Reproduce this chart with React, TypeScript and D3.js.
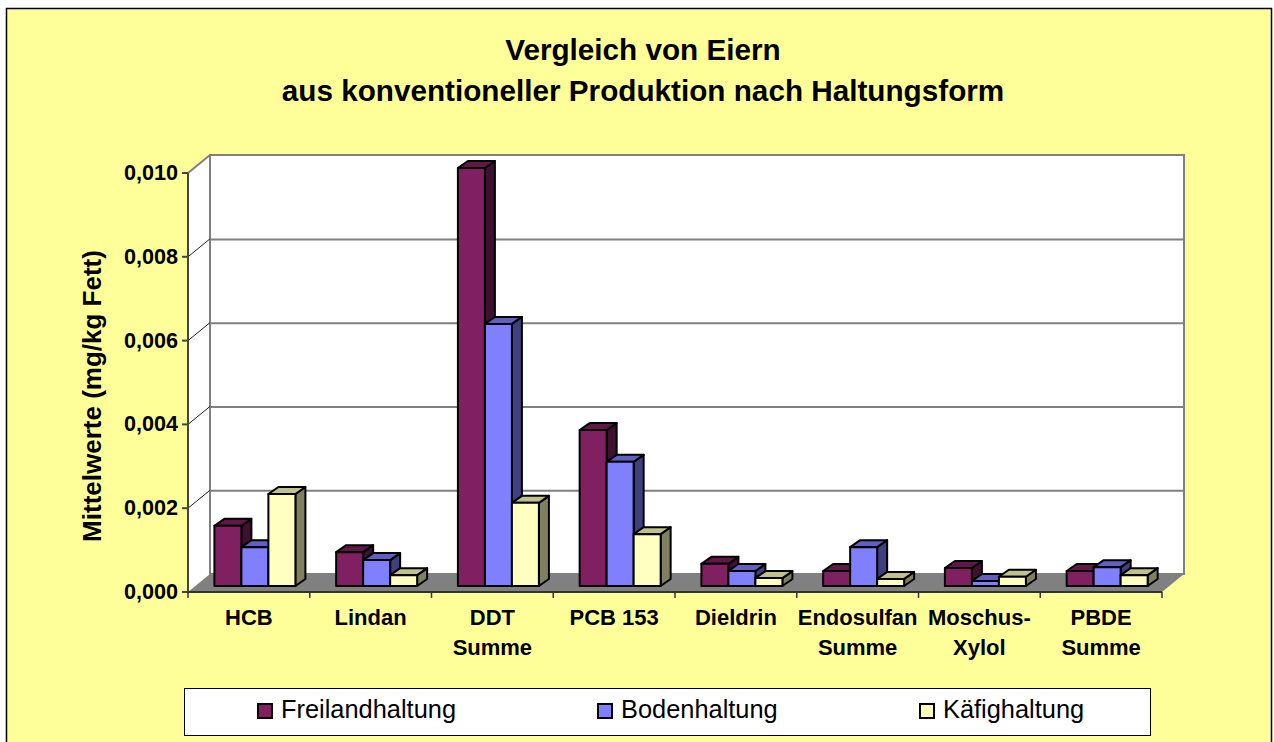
import React from "react";
import * as d3 from "d3";

const categories = [["HCB"], ["Lindan"], ["DDT", "Summe"], ["PCB 153"], ["Dieldrin"], ["Endosulfan", "Summe"], ["Moschus-", "Xylol"], ["PBDE", "Summe"]];
const freiland = [0.00144, 0.00081, 0.0100, 0.00373, 0.00053, 0.00036, 0.00043, 0.00036];
const boden = [0.00093, 0.00062, 0.00627, 0.00297, 0.00036, 0.00093, 0.00012, 0.00045];
const kaefig = [0.0022, 0.00026, 0.00199, 0.00124, 0.00019, 0.00017, 0.00022, 0.00026];
const seriesNames = ["Freilandhaltung", "Bodenhaltung", "Käfighaltung"];
const seriesValues = [freiland, boden, kaefig];
const seriesColors = [
  { front: "#802060", top: "#601848", side: "#401030" },
  { front: "#8080ff", top: "#6060c0", side: "#404080" },
  { front: "#ffffc0", top: "#c0c090", side: "#808060" },
];
const yTicks = [0, 0.002, 0.004, 0.006, 0.008, 0.01];
const FONT = "'Liberation Sans', Arial, sans-serif";

const axisX0 = 188, axisX1 = 1162, axisY0 = 592, axisY1 = 173;
const dx = 22, dy = 18;
const barBase = 586, barTop = 168, barDx = 10, barDy = 7;

export default function App() {
  const yAxis = d3.scaleLinear().domain([0, 0.01]).range([axisY0, axisY1]);
  const yBar = d3.scaleLinear().domain([0, 0.01]).range([barBase, barTop]);
  const xBand = d3.scaleBand<number>().domain(d3.range(categories.length)).range([axisX0, axisX1]);
  const barW = 27;
  const poly = (pts: number[][]) => d3.line()(pts as [number, number][]) + "Z";

  return (
    <svg width={1274} height={742} style={{ position: "absolute", left: 0, top: 0, display: "block" }} fontFamily={FONT}>
      <rect x={0} y={0} width={1274} height={742} fill="#ffffff" />
      <rect x={6.5} y={8.5} width={1265} height={740} fill="#ffff99" stroke="#000" strokeWidth={1.5} />
      <text x={643} y={60} textAnchor="middle" fontSize={29.7} fontWeight="bold">Vergleich von Eiern</text>
      <text x={643} y={100.5} textAnchor="middle" fontSize={29.7} fontWeight="bold">aus konventioneller Produktion nach Haltungsform</text>

      {/* walls and floor */}
      <path d={poly([[axisX0, axisY1], [axisX0 + dx, axisY1 - dy], [axisX0 + dx, axisY0 - dy], [axisX0, axisY0]])} fill="#fff" />
      <rect x={axisX0 + dx} y={axisY1 - dy} width={axisX1 - axisX0} height={axisY0 - axisY1} fill="#fff" stroke="#808080" strokeWidth={2} />
      <path d={poly([[axisX0, axisY0], [axisX1, axisY0], [axisX1 + dx, axisY0 - dy], [axisX0 + dx, axisY0 - dy]])} fill="#808080" />
      <path d={`M${axisX0},${axisY1}L${axisX0 + dx},${axisY1 - dy}`} stroke="#808080" strokeWidth={2} fill="none" />
      {yTicks.slice(1, -1).map((t) => (
        <g key={t}>
          <line x1={axisX0 + dx} x2={axisX1 + dx} y1={yAxis(t) - dy + 0.6} y2={yAxis(t) - dy + 0.6} stroke="#808080" strokeWidth={2} />
          <line x1={axisX0} x2={axisX0 + dx} y1={yAxis(t)} y2={yAxis(t) - dy} stroke="#222" strokeWidth={1} />
        </g>
      ))}

      {/* bars */}
      {categories.map((_, ci) =>
        seriesValues.map((vals, si) => {
          const x0 = xBand(ci)! + 26.4 + si * barW;
          const y = yBar(vals[ci]);
          const c = seriesColors[si];
          return (
            <g key={`${ci}-${si}`} stroke="#000" strokeWidth={2} strokeLinejoin="round">
              <path d={poly([[x0 + barW, y], [x0 + barW + barDx, y - barDy], [x0 + barW + barDx, barBase - barDy], [x0 + barW, barBase]])} fill={c.side} />
              <path d={poly([[x0, y], [x0 + barDx, y - barDy], [x0 + barW + barDx, y - barDy], [x0 + barW, y]])} fill={c.top} />
              <rect x={x0} y={y} width={barW} height={barBase - y} fill={c.front} />
            </g>
          );
        })
      )}

      {/* axes */}
      <line x1={axisX0} x2={axisX0} y1={axisY1} y2={axisY0} stroke="#444" strokeWidth={2} />
      <line x1={axisX0} x2={axisX1} y1={axisY0} y2={axisY0} stroke="#333" strokeWidth={2} />
      {yTicks.map((t) => (
        <g key={t}>
          <line x1={axisX0 - 6} x2={axisX0} y1={yAxis(t)} y2={yAxis(t)} stroke="#444" strokeWidth={2} />
          <text x={178} y={yAxis(t) + 7} textAnchor="end" fontSize={21.6} fontWeight="bold">{d3.format(".3f")(t).replace(".", ",")}</text>
        </g>
      ))}
      {d3.range(categories.length + 1).map((i) => {
        const x = i < categories.length ? xBand(i)! : axisX1;
        return <line key={i} x1={x} x2={x} y1={axisY0} y2={axisY0 + 6} stroke="#333" strokeWidth={1.5} />;
      })}
      {categories.map((lines, ci) =>
        lines.map((l, li) => (
          <text key={l} x={xBand(ci)! + xBand.bandwidth() / 2} y={625 + li * 30} textAnchor="middle" fontSize={22} fontWeight="bold">{l}</text>
        ))
      )}
      <text transform="translate(100.5,396) rotate(-90)" textAnchor="middle" fontSize={26} fontWeight="bold">Mittelwerte (mg/kg Fett)</text>

      {/* legend */}
      <rect x={184.5} y={688.5} width={966} height={47} fill="#fff" stroke="#000" strokeWidth={1} />
      {seriesNames.map((n, i) => {
        const sx = [258, 598, 920][i];
        return (
          <g key={n}>
            <rect x={sx} y={704} width={14} height={14} fill={seriesColors[i].front} stroke="#000" strokeWidth={2} />
            <text x={sx + 23} y={718} fontSize={25.4}>{n}</text>
          </g>
        );
      })}
    </svg>
  );
}
